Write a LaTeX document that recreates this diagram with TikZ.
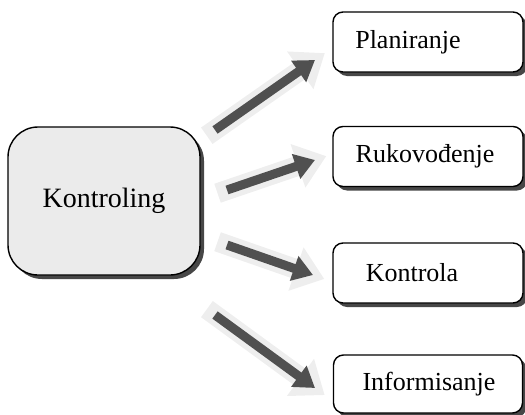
\documentclass[tikz,border=0pt]{standalone}
\usepackage{fontspec}
\setmainfont{Liberation Serif}
\usetikzlibrary{arrows.meta,shadows}
\definecolor{arrowdark}{HTML}{505050}
\definecolor{arrowhalo}{HTML}{EEEEEE}
\definecolor{mainfill}{HTML}{EBEBEB}
\begin{document}
\begin{tikzpicture}[x=1pt,y=-1pt,
  boxbase/.style={draw=black, line width=1.4pt, inner sep=0pt,
    drop shadow={shadow xshift=4pt, shadow yshift=-4pt, fill=black!72, opacity=1}},
  smallbox/.style={boxbase, rounded corners=10pt, fill=white,
    minimum width=190pt, minimum height=60pt},
  lbl/.style={font=\fontsize{26}{30}\selectfont},
  halo/.style={draw=arrowhalo, line width=20pt,
    -{Triangle[length=30pt,width=44pt]}, shorten <=-10pt, shorten >=-12pt},
  blockarrow/.style={draw=arrowdark, line width=9pt,
    -{Triangle[length=20pt,width=25pt]}}]
\useasboundingbox (0,0) rectangle (525,415);

% arrow end points
\coordinate (a1s) at (215,130); \coordinate (a1e) at (315,60);
\coordinate (a2s) at (227,190); \coordinate (a2e) at (315,160);
\coordinate (a3s) at (227,245); \coordinate (a3e) at (313,275);
\coordinate (a4s) at (215,315); \coordinate (a4e) at (315,388);

\foreach \i in {1,2,3,4} {
  \draw[halo] (a\i s) -- (a\i e);
}
\foreach \i in {1,2,3,4} {
  \draw[blockarrow] (a\i s) -- (a\i e);
}

\node[boxbase, rounded corners=30pt, fill=mainfill,
  minimum width=192pt, minimum height=148pt,
  font=\fontsize{28}{32}\selectfont] (k) at (104,201) {Kontroling};

\node[smallbox, label={[lbl, xshift=-20pt]center:Planiranje}] (p) at (428,42) {};
\node[smallbox, label={[lbl, xshift=-3pt]center:Rukovođenje}] (r) at (428,156.5) {};
\node[smallbox, label={[lbl, xshift=-16pt]center:Kontrola}] (c) at (428,273) {};
\node[smallbox, minimum width=189pt, minimum height=58pt,
  label={[lbl, xshift=1pt]center:Informisanje}] (i) at (428,384) {};
\end{tikzpicture}
\end{document}
